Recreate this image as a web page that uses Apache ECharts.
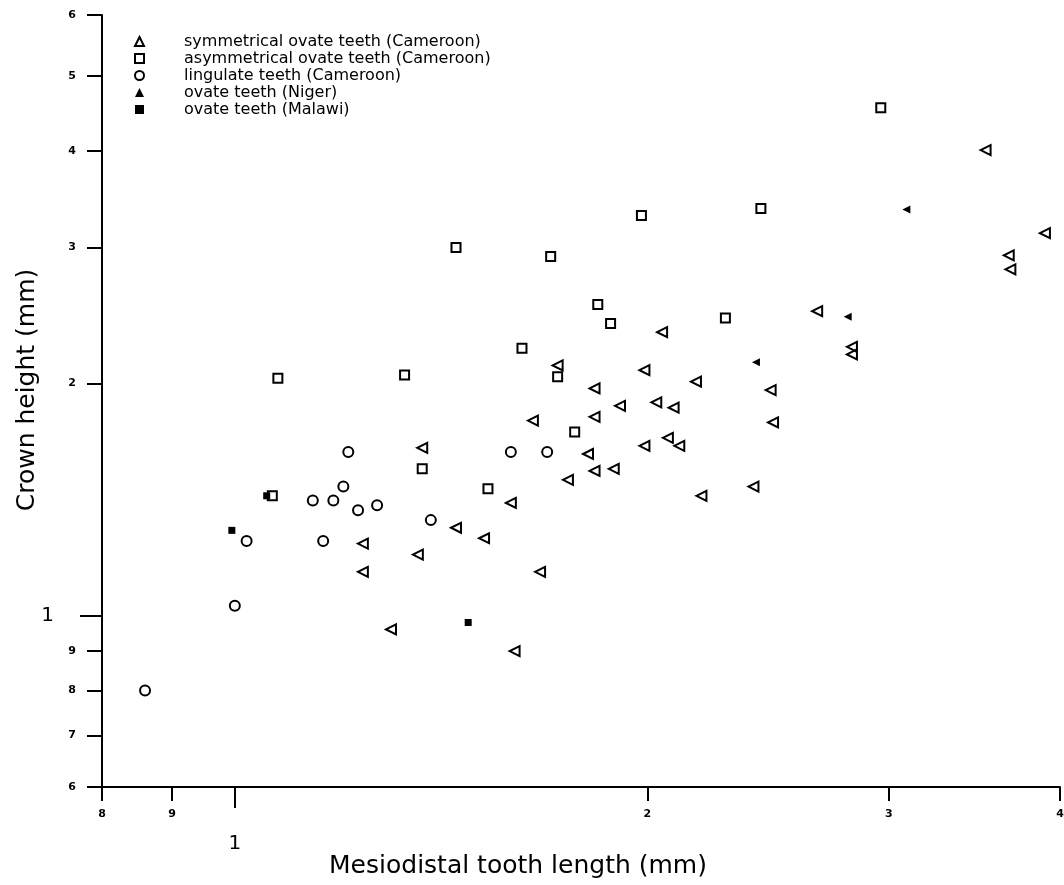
<!DOCTYPE html>
<html>
<head>
<meta charset="utf-8">
<script src="https://cdn.jsdelivr.net/npm/echarts@6/dist/echarts.min.js"></script>
<style>
  html, body { margin: 0; padding: 0; background: #fff; }
  #chart { width: 1064px; height: 885px; }
</style>
</head>
<body>
<div id="chart"></div>
<script>
// Tooth measurements: [mesiodistal length (mm), crown height (mm)]
const seriesNames = [
  'symmetrical ovate teeth (Cameroon)',
  'asymmetrical ovate teeth (Cameroon)',
  'lingulate teeth (Cameroon)',
  'ovate teeth (Niger)',
  'ovate teeth (Malawi)'
];

const symmetricalOvate = [
  [1.83, 1.97], [1.91, 1.87], [1.83, 1.81], [1.65, 1.79], [1.37, 1.65],
  [1.81, 1.62], [1.89, 1.55], [1.83, 1.54], [1.75, 1.50], [1.59, 1.40],
  [1.45, 1.30], [1.52, 1.26], [1.24, 1.24], [1.36, 1.20], [1.24, 1.14],
  [1.67, 1.14], [1.30, 0.96], [1.60, 0.90], [1.72, 2.11], [3.53, 4.01],
  [3.90, 3.13], [3.67, 2.93], [3.68, 2.81], [2.66, 2.48], [2.05, 2.33],
  [2.82, 2.23], [2.82, 2.18], [1.99, 2.08], [2.17, 2.01], [2.46, 1.96],
  [2.03, 1.89], [2.09, 1.86], [2.47, 1.78], [2.07, 1.70], [2.11, 1.66],
  [1.99, 1.66], [2.19, 1.43], [2.39, 1.47]
];

const asymmetricalOvate = [
  [1.075, 2.03], [1.45, 3.00], [1.33, 2.05], [1.70, 2.92], [1.37, 1.55],
  [1.53, 1.46], [1.62, 2.22], [1.72, 2.04], [1.84, 2.53], [1.88, 2.39],
  [1.77, 1.73], [1.98, 3.30], [2.28, 2.43], [2.42, 3.37], [2.96, 4.55],
  [1.065, 1.43]
];

const lingulate = [
  [0.86, 0.80], [1.00, 1.03], [1.02, 1.25], [1.14, 1.41], [1.16, 1.25],
  [1.18, 1.41], [1.20, 1.47], [1.21, 1.63], [1.23, 1.37], [1.27, 1.39],
  [1.39, 1.33], [1.59, 1.63], [1.69, 1.63]
];

const ovateNiger = [[3.09, 3.36], [2.80, 2.44], [2.40, 2.13]];

const ovateMalawi = [[0.995, 1.29], [1.055, 1.43], [1.48, 0.98]];

const xTicks = [0.8, 0.9, 1, 2, 3, 4];
const yTicks = [0.6, 0.7, 0.8, 0.9, 1, 2, 3, 4, 5, 6];
const unitTick = [1];

const xTitle = 'Mesiodistal tooth length (mm)';
const yTitle = 'Crown height (mm)';

const FONT = '"DejaVu Sans", sans-serif';

// Small bold digits; the unit value "1" is printed larger and set apart
function tickText(v) {
  if (Math.abs(v - 1) < 1e-9) return '{big|1}';
  const digit = v < 1 ? Math.round(v * 10) : Math.round(v);
  return '{s|' + digit + '}';
}

const smallDigit = { fontFamily: FONT, fontSize: 11, fontWeight: 'bold', color: '#000' };

const openStyle = { color: 'transparent', borderColor: '#000', borderWidth: 2, opacity: 1 };
const solidStyle = { color: '#000', borderColor: '#000', borderWidth: 0, opacity: 1 };

// Shared log-axis base; the overlay axes only add the longer tick at 1
function logAxis(min, max, extra) {
  return Object.assign({
    type: 'log',
    logBase: 10,
    min: min,
    max: max,
    splitLine: { show: false },
    minorTick: { show: false }
  }, extra);
}

const chart = echarts.init(document.getElementById('chart'), null, { renderer: 'canvas' });

chart.setOption({
  backgroundColor: '#fff',
  animation: false,
  grid: { left: 102, right: 4, top: 15, bottom: 98, containLabel: false, outerBoundsMode: 'none' },
  legend: {
    orient: 'vertical',
    left: 134,
    top: 33,
    padding: 0,
    itemWidth: 9,
    itemHeight: 9,
    itemGap: 0,
    symbolRotate: 0,
    selectedMode: false,
    textStyle: { fontFamily: FONT, fontSize: 16, color: '#000', lineHeight: 17, padding: [0, 0, 0, 35] },
    data: seriesNames
  },
  xAxis: [
    logAxis(0.8, 4, {
      position: 'bottom',
      axisLine: { lineStyle: { color: '#000', width: 2 } },
      axisTick: { show: true, inside: false, length: 14, customValues: xTicks, lineStyle: { color: '#000', width: 2 } },
      axisLabel: {
        customValues: xTicks,
        margin: 22,
        formatter: tickText,
        rich: {
          s: smallDigit,
          big: { fontFamily: FONT, fontSize: 20, color: '#000', padding: [25, 0, 0, 0] }
        }
      }
    }),
    logAxis(0.8, 4, {
      position: 'bottom',
      offset: 0,
      axisLine: { show: false },
      axisTick: { show: true, inside: false, length: 21, customValues: unitTick, lineStyle: { color: '#000', width: 2 } },
      axisLabel: { show: false }
    })
  ],
  yAxis: [
    logAxis(0.6, 6, {
      position: 'left',
      axisLine: { lineStyle: { color: '#000', width: 2 } },
      axisTick: { show: true, inside: false, length: 15, customValues: yTicks, lineStyle: { color: '#000', width: 2 } },
      axisLabel: {
        customValues: yTicks,
        margin: 26,
        formatter: tickText,
        rich: {
          s: smallDigit,
          big: { fontFamily: FONT, fontSize: 20, color: '#000', padding: [0, 22, 0, 0] }
        }
      }
    }),
    logAxis(0.6, 6, {
      position: 'left',
      offset: 0,
      axisLine: { show: false },
      axisTick: { show: true, inside: false, length: 22, customValues: unitTick, lineStyle: { color: '#000', width: 2 } },
      axisLabel: { show: false }
    })
  ],
  graphic: [
    {
      type: 'text', x: 518, y: 866,
      style: { text: xTitle, font: '25px ' + FONT, fill: '#000', textAlign: 'center', textVerticalAlign: 'middle' }
    },
    {
      type: 'text', x: 27, y: 390, rotation: Math.PI / 2,
      style: { text: yTitle, font: '25px ' + FONT, fill: '#000', textAlign: 'center', textVerticalAlign: 'middle' }
    }
  ],
  series: [
    { name: seriesNames[0], type: 'scatter', data: symmetricalOvate, symbol: 'triangle', symbolRotate: 90, symbolSize: 10, itemStyle: openStyle },
    { name: seriesNames[1], type: 'scatter', data: asymmetricalOvate, symbol: 'rect', symbolSize: 9, itemStyle: openStyle },
    { name: seriesNames[2], type: 'scatter', data: lingulate, symbol: 'circle', symbolSize: 10, itemStyle: openStyle },
    { name: seriesNames[3], type: 'scatter', data: ovateNiger, symbol: 'triangle', symbolRotate: 90, symbolSize: 8, itemStyle: solidStyle },
    { name: seriesNames[4], type: 'scatter', data: ovateMalawi, symbol: 'rect', symbolSize: 7, itemStyle: solidStyle }
  ]
});
</script>
</body>
</html>
